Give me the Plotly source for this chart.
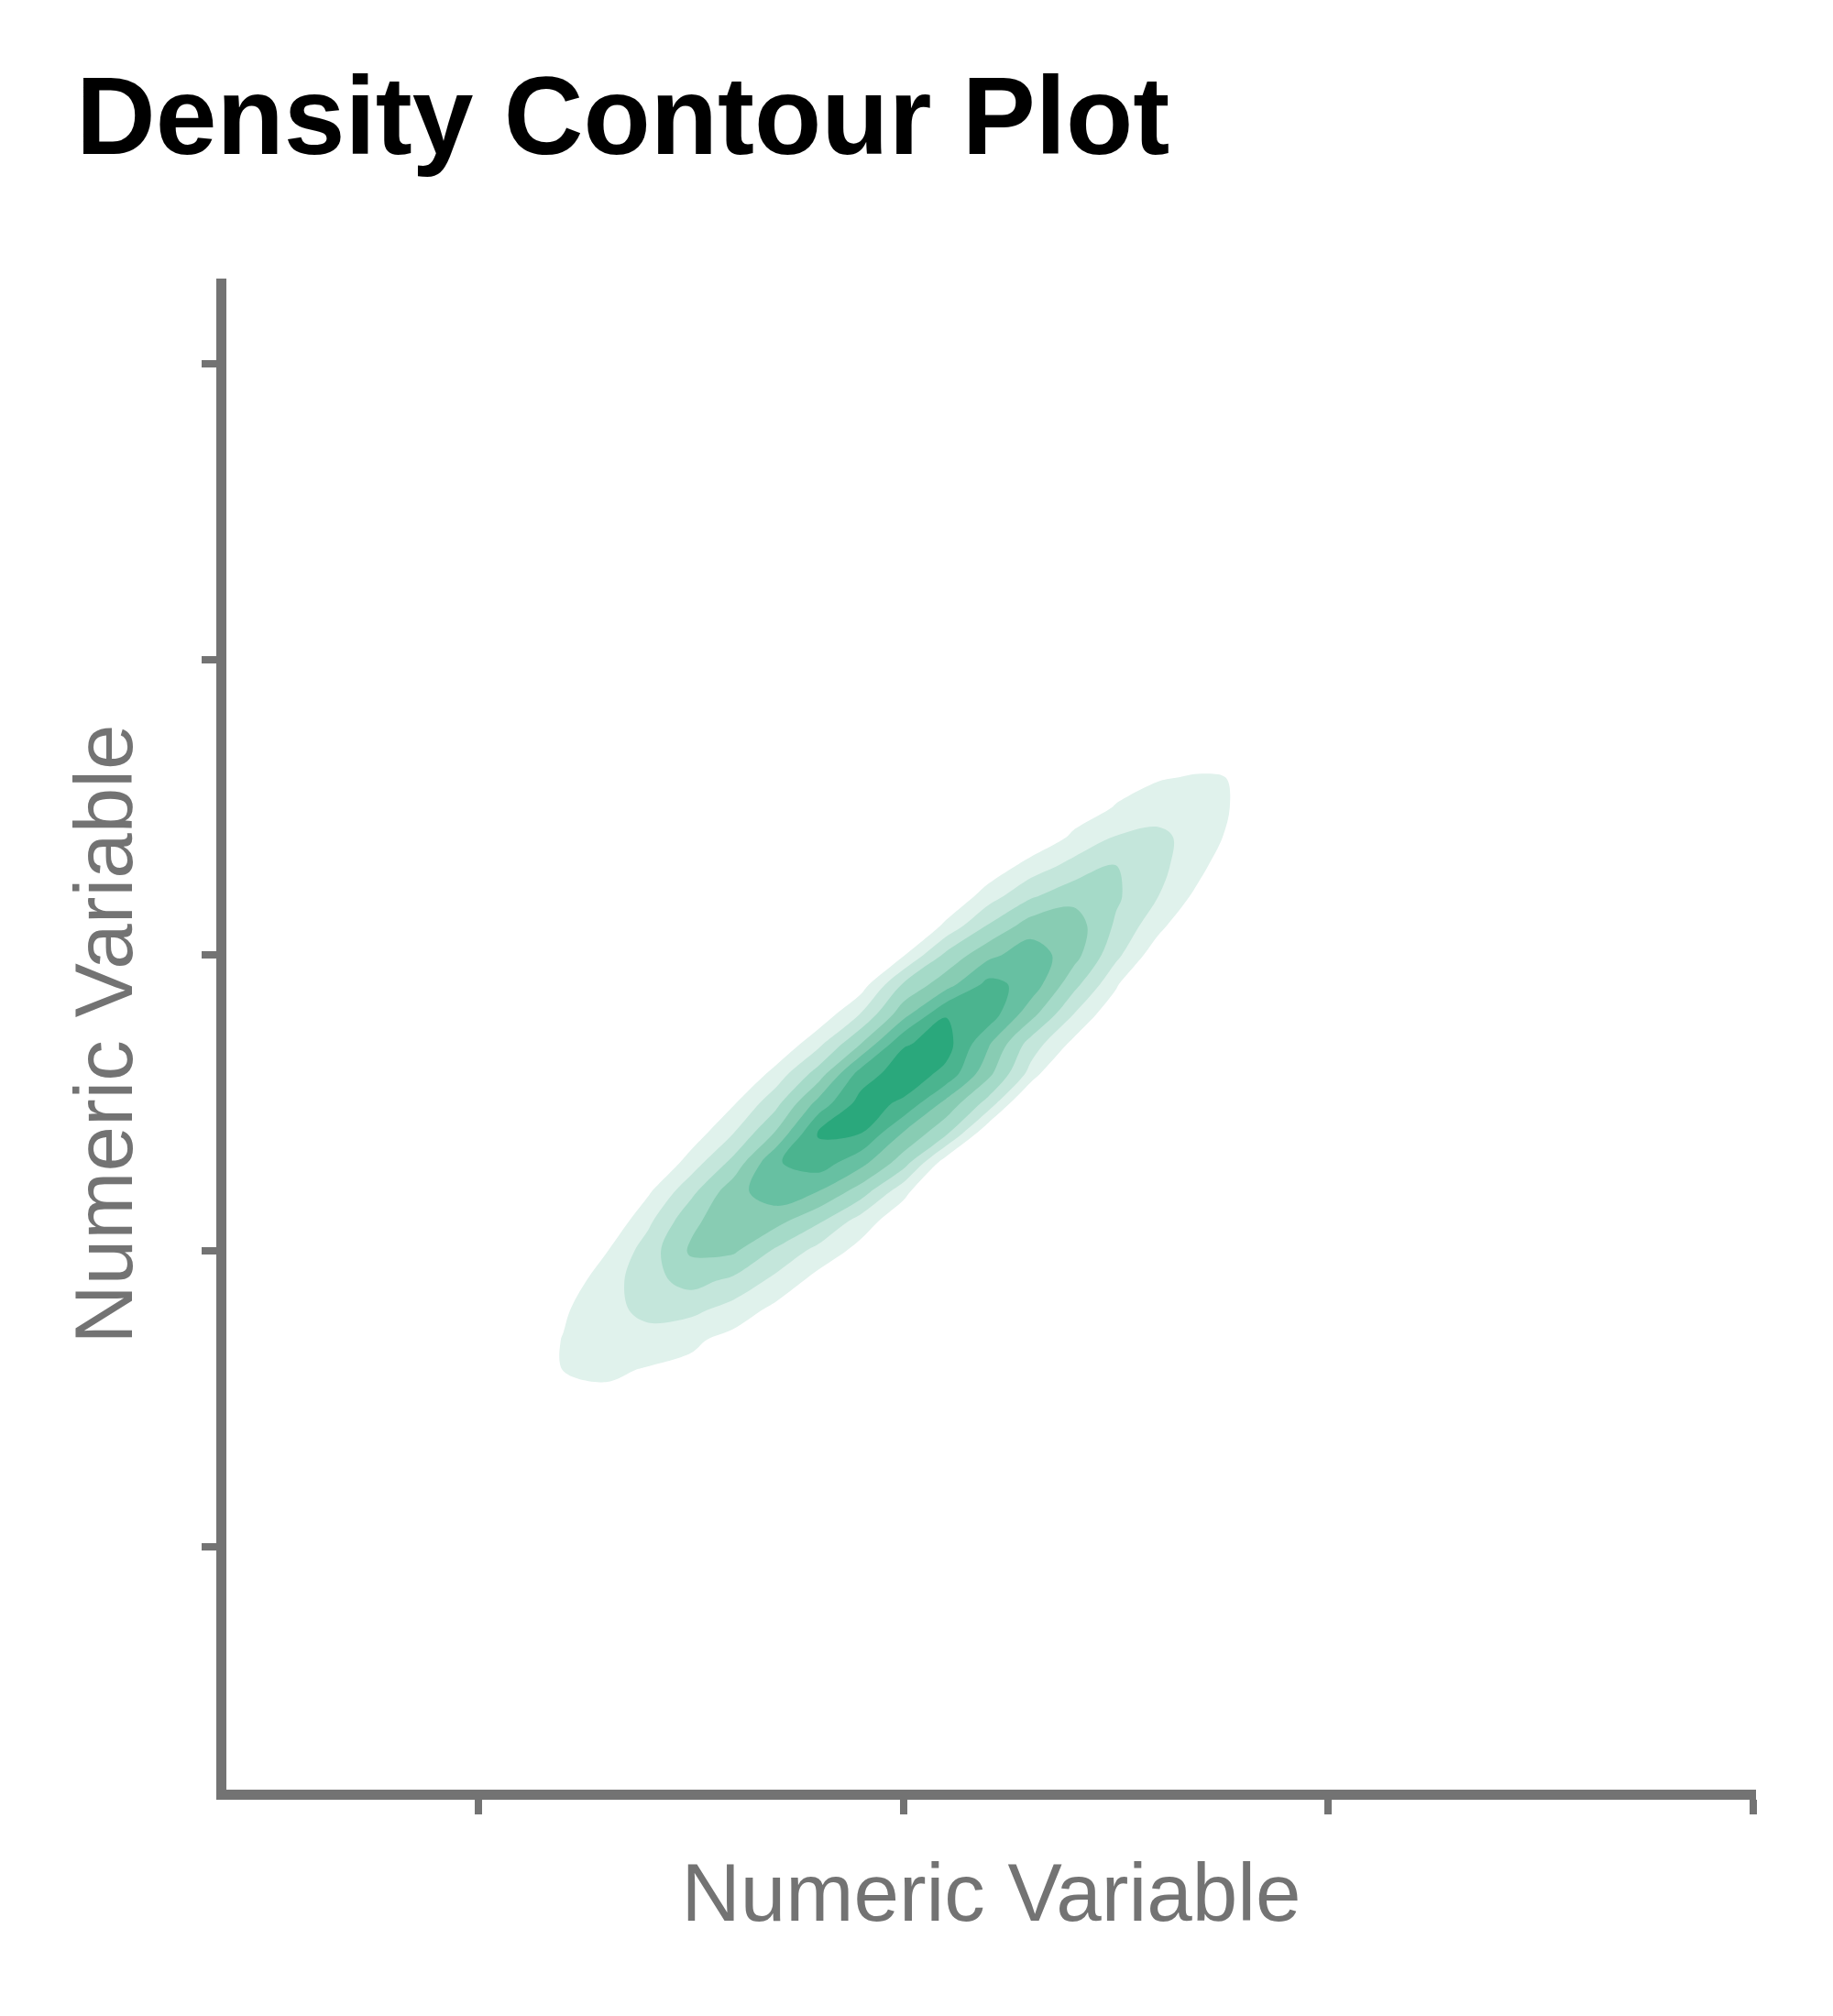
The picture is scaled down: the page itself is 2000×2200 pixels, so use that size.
import plotly.graph_objects as go

# grid positions (data units) and density levels
x_grid = [0.0, 0.1, 0.2, 0.3, 0.4, 0.5, 0.6, 0.7, 0.8, 0.9, 1.0,
          1.1, 1.2, 1.3, 1.4, 1.5, 1.6, 1.7, 1.8, 1.9, 2.0]
y_grid = [0.3, 0.4, 0.5, 0.6, 0.7, 0.8, 0.9, 1.0, 1.1, 1.2, 1.3, 1.4,
          1.5, 1.6, 1.7, 1.8, 1.9, 2.0, 2.1, 2.2, 2.3, 2.4, 2.5, 2.6, 2.7]

density = [
    [-1, -1, -0.4, -0.3, -0.5, -1, -1, -1, -1, -1, -1, -1, -1, -1, -1, -1, -1, -1, -1, -1, -1],
    [-1, -0.3, 0.3, 0.3, 0.2, 0.0, -0.3, -1, -1, -1, -1, -1, -1, -1, -1, -1, -1, -1, -1, -1, -1],
    [-0.5, 0.2, 0.72, 0.75, 0.6, 0.45, 0.3, -0.2, -1, -1, -1, -1, -1, -1, -1, -1, -1, -1, -1, -1, -1],
    [-0.5, 0.36, 1.02, 1.19, 0.93, 0.75, 0.5, 0.1, -0.5, -1, -1, -1, -1, -1, -1, -1, -1, -1, -1, -1, -1],
    [-0.3, 0.38, 1.04, 1.42, 1.59, 1.2, 0.67, -0.03, -0.6, -1, -1, -1, -1, -1, -1, -1, -1, -1, -1, -1, -1],
    [-0.5, 0.11, 0.88, 1.64, 2.3, 2.25, 1.58, 0.71, -0.17, -1, -1, -1, -1, -1, -1, -1, -1, -1, -1, -1, -1],
    [-1, -0.67, 0.42, 1.49, 2.66, 3.35, 2.77, 1.72, 0.62, -0.48, -1.2, -1, -1, -1, -1, -1, -1, -1, -1, -1, -1],
    [-1, -1, -0.55, 0.94, 2.52, 4.15, 4.15, 2.82, 1.65, 0.65, -0.37, -1.2, -1, -1, -1, -1, -1, -1, -1, -1, -1],
    [-1, -1, -1.5, 0.07, 1.8, 3.77, 4.68, 4.32, 3.13, 1.51, 0.25, -1, -1, -1, -1, -1, -1, -1, -1, -1, -1],
    [-1, -1, -1.5, -0.92, 0.87, 2.73, 4.64, 5.6, 4.97, 3.49, 1.29, -0.56, -1.5, -1, -1, -1, -1, -1, -1, -1, -1],
    [-1, -1, -1, -1.5, -0.28, 1.44, 3.3, 5.9, 6.55, 5.35, 3.49, 0.46, -1.5, -1, -1, -1, -1, -1, -1, -1, -1],
    [-1, -1, -1, -1.5, -1.2, 0.38, 1.97, 4.09, 7.1, 7.05, 4.94, 3.25, 0.17, -1.5, -1, -1, -1, -1, -1, -1, -1],
    [-1, -1, -1, -1, -1.5, -0.75, 0.9, 2.68, 5.35, 7.4, 6.85, 4.71, 2.62, -0.56, -1.5, -1, -1, -1, -1, -1, -1],
    [-1, -1, -1, -1, -1, -1.5, -0.33, 1.39, 3.44, 6.45, 7.6, 6.75, 4.28, 1.64, -1.25, -1, -1, -1, -1, -1, -1],
    [-1, -1, -1, -1, -1, -1, -1.5, 0.02, 1.74, 4.02, 6.9, 7.4, 5.12, 2.55, 0.73, -1.0, -1.5, -1, -1, -1, -1],
    [-1, -1, -1, -1, -1, -1, -1, -1.5, 0.27, 2.07, 4.63, 6.95, 6.6, 4.36, 1.99, 0.14, -1.5, -1, -1, -1, -1],
    [-1, -1, -1, -1, -1, -1, -1, -1, -1.5, 0.52, 3.15, 4.6, 6.35, 5.6, 3.34, 1.16, -1.5, -1, -1, -1, -1],
    [-1, -1, -1, -1, -1, -1, -1, -1, -1, -1.5, 0.93, 3.25, 4.74, 5.6, 4.4, 2.26, 0.31, -1.5, -1, -1, -1],
    [-1, -1, -1, -1, -1, -1, -1, -1, -1, -1, -0.67, 1.25, 3.09, 4.5, 4.55, 2.85, 1.31, -0.28, -1.5, -1, -1],
    [-1, -1, -1, -1, -1, -1, -1, -1, -1, -1, -1.5, -0.07, 1.53, 2.86, 3.67, 3.17, 2.0, 0.64, -0.7, -1, -1],
    [-1, -1, -1, -1, -1, -1, -1, -1, -1, -1, -1, -1, 0.27, 1.46, 2.38, 3.04, 2.28, 1.23, -0.22, -1.2, -1],
    [-1, -1, -1, -1, -1, -1, -1, -1, -1, -1, -1, -1, -0.8, 0.08, 1.18, 2.05, 2.25, 1.52, 0.5, -0.8, -1],
    [-1, -1, -1, -1, -1, -1, -1, -1, -1, -1, -1, -1, -1, -0.3, 0.4, 1.06, 1.51, 1.38, 0.82, -0.1, -0.8],
    [-1, -1, -1, -1, -1, -1, -1, -1, -1, -1, -1, -1, -1, -0.3, 0.2, 0.6, 0.93, 1.1, 0.93, 0.4, 0.1],
    [-1, -1, -1, -1, -1, -1, -1, -1, -1, -1, -1, -1, -1, -1, -1, -0.3, 0.1, 0.4, 0.15, -0.3, -1],
]

x_ticks = [0, 1, 2, 3]
y_ticks = [0, 1, 2, 3, 4]

band_colors = ["#e0f2ec", "#c4e6db", "#a5dac8", "#88ccb3", "#67c0a2", "#4bb48f", "#2aa87c"]
axis_grey = "#737373"

# background (below first level) stays see-through, each band gets its own shade
colorscale = [[0.0, "rgba(255,255,255,0)"]]
for i, c in enumerate(band_colors):
    colorscale.append([(i + 1) / len(band_colors), c])

fig = go.Figure()

fig.add_trace(go.Contour(
    x=x_grid, y=y_grid, z=density,
    contours=dict(start=1, end=7, size=1, coloring="fill", showlines=False),
    colorscale=colorscale,
    showscale=False,
    line=dict(width=0, smoothing=1.0),
    hoverinfo="skip",
))

# the page body adds an 8px offset, margins are shifted to make up for it
fig.update_layout(
    width=2000, height=2200,
    paper_bgcolor="white", plot_bgcolor="white",
    margin=dict(l=239, r=92, t=296, b=255),
    font=dict(family="Liberation Sans, Arial, sans-serif", color=axis_grey),
    title=dict(
        text="<b>Density Contour Plot</b>",
        font=dict(size=120, color="black", family="Liberation Sans, Arial, sans-serif"),
        x=0.0375, xref="container", xanchor="left",
        y=1 - 76 / 2200, yref="container", yanchor="top",
    ),
    showlegend=False,
)

fig.update_xaxes(
    range=[-0.593, 3.006], tickvals=x_ticks, showticklabels=False,
    ticks="outside", ticklen=16, tickwidth=8, tickcolor=axis_grey,
    showline=True, linewidth=11, linecolor=axis_grey,
    showgrid=False, zeroline=False,
    title=dict(text="Numeric Variable", font=dict(size=89, color=axis_grey), standoff=59),
)
fig.update_yaxes(
    range=[-0.821, 4.288], tickvals=y_ticks, showticklabels=False,
    ticks="outside", ticklen=16, tickwidth=8, tickcolor=axis_grey,
    showline=True, linewidth=11, linecolor=axis_grey,
    showgrid=False, zeroline=False,
    title=dict(text="Numeric Variable", font=dict(size=89, color=axis_grey), standoff=50),
)

fig.write_html("out.html")
